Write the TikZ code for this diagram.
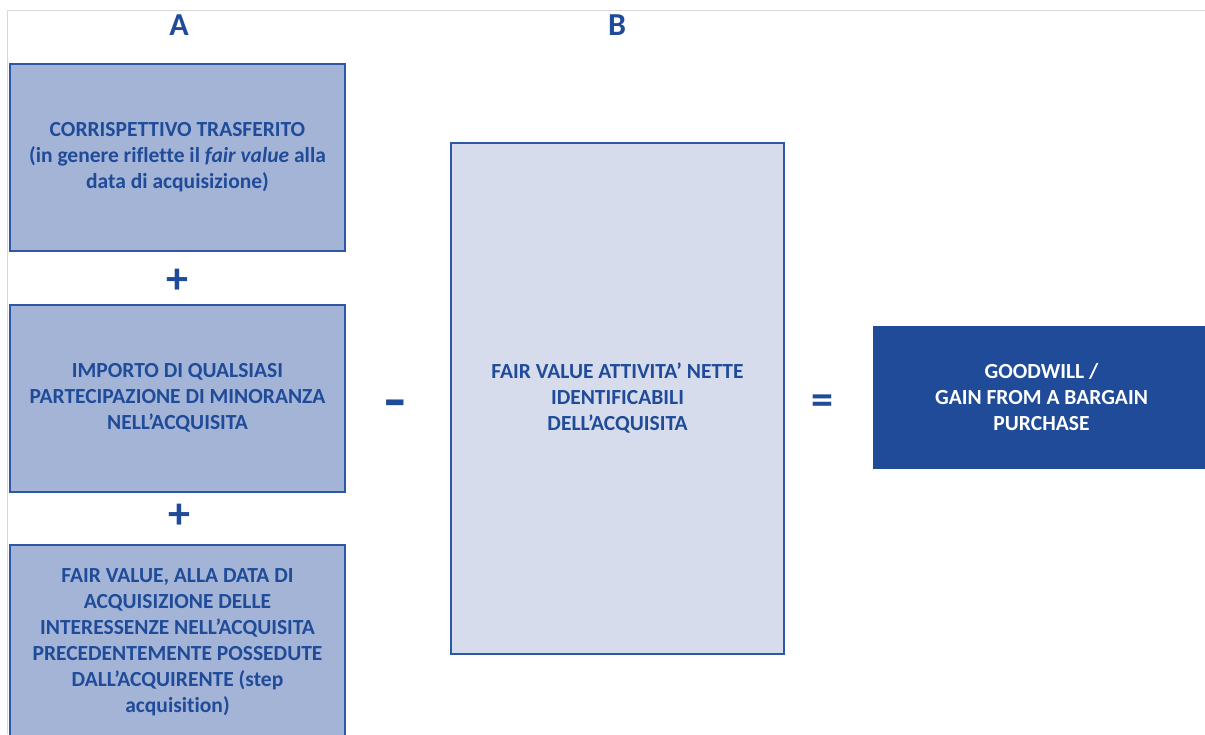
\documentclass[tikz,border=0pt]{standalone}
\usepackage{fontspec}
\setmainfont{Carlito}[Ligatures=NoCommon]
\definecolor{dblue}{HTML}{1F4B99}
\definecolor{lblue}{HTML}{A3B4D7}
\definecolor{pblue}{HTML}{D6DCEB}
\definecolor{bord}{HTML}{2E58A6}
\definecolor{framegrey}{HTML}{D9D9D9}
\begin{document}
\begin{tikzpicture}[x=1pt,y=-1pt,
  boxtext/.style={text=dblue, font=\bfseries\fontsize{21.5}{26}\selectfont, align=center, inner sep=0pt},
  abox/.style={boxtext, draw=bord, line width=2pt, fill=lblue, minimum width=335pt},
  bbox/.style={boxtext, draw=bord, line width=2pt, fill=pblue},
  gbox/.style={draw=dblue, fill=dblue, text=white, font=\bfseries\fontsize{21.5}{26}\selectfont, align=center, inner sep=0pt},
  head/.style={text=dblue, font=\bfseries\fontsize{32}{36}\selectfont, inner sep=0pt},
  opsign/.style={text=dblue, font=\bfseries\fontsize{44}{48}\selectfont, inner sep=0pt}]
\fill[white] (0,0) rectangle (1205,734);
\useasboundingbox (0,0) rectangle (1205,734);
\coordinate (fr1) at (1205,10);
\coordinate (fr2) at (7,10);
\coordinate (fr3) at (7,734);
\draw[framegrey, line width=1pt] (fr1) -- (fr2) -- (fr3);

\node[head] (hA) at (179,25) {A};
\node[head] (hB) at (617,25) {B};

\node[abox, minimum height=187pt] (a1) at (177.5,157)
  {CORRISPETTIVO TRASFERITO\\(in genere riflette il \textit{fair value} alla\\data di acquisizione)};
\node[opsign] (p1) at (177,281) {+};
\node[abox, minimum height=187pt] (a2) at (177.5,398)
  {IMPORTO DI QUALSIASI\\PARTECIPAZIONE DI MINORANZA\\NELL’ACQUISITA};
\node[opsign] (p2) at (179,516) {+};
\node[abox, minimum height=194pt] (a3) at (177.5,642)
  {FAIR VALUE, ALLA DATA DI\\ACQUISIZIONE DELLE\\INTERESSENZE NELL’ACQUISITA\\PRECEDENTEMENTE POSSEDUTE\\DALL’ACQUIRENTE (step\\acquisition)};

\node[opsign] (minus) at (395,409) {\scalebox{1.6}[1.25]{-}};

\node[bbox, minimum width=333pt, minimum height=511pt] (b) at (617.5,398)
  {FAIR VALUE ATTIVITA’ NETTE\\IDENTIFICABILI\\DELL’ACQUISITA};

\node[opsign] (eq) at (822,405) {=};

\node[gbox, minimum width=337pt, minimum height=142pt] (gw) at (1041.5,397)
  {GOODWILL /\\GAIN FROM A BARGAIN\\PURCHASE};
\end{tikzpicture}
\end{document}
